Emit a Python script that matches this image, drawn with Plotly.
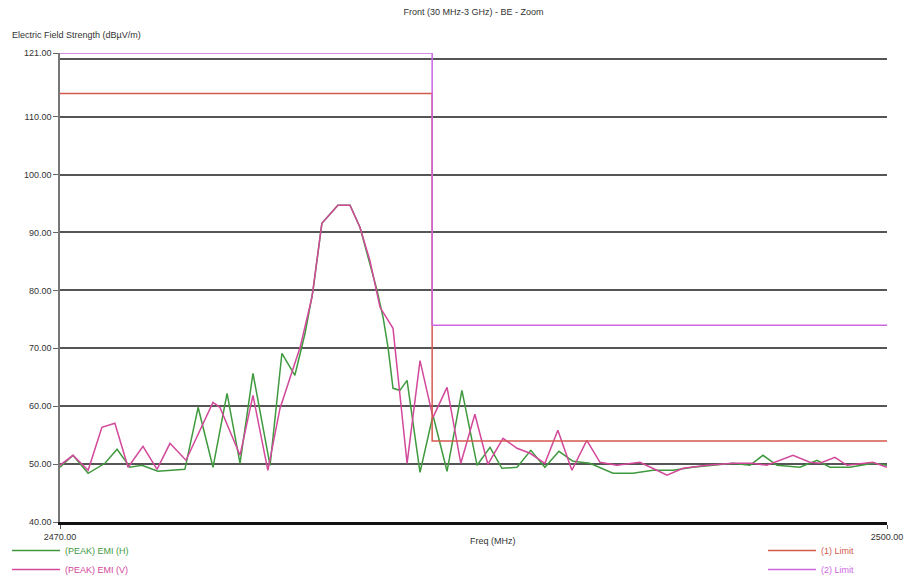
import plotly.graph_objects as go

# ---- data ----
freq_h = [2470.00, 2470.47, 2471.02, 2471.63, 2472.07, 2472.54, 2472.97, 2473.55, 2474.53,
          2475.01, 2475.55, 2476.06, 2476.53, 2477.00, 2477.62, 2478.05, 2478.52, 2478.89,
          2479.18, 2479.50, 2480.08, 2480.52, 2480.88, 2481.24, 2481.50, 2481.72, 2481.90,
          2482.08, 2482.33, 2482.59, 2483.06, 2483.53, 2484.04, 2484.58, 2485.13, 2485.60,
          2486.03, 2486.58, 2487.08, 2487.59, 2488.10, 2488.61, 2489.22, 2490.06, 2490.78,
          2491.51, 2492.23, 2492.96, 2493.68, 2494.41, 2495.03, 2495.50, 2496.01, 2496.84,
          2497.46, 2497.93, 2498.65, 2499.49, 2500.00]
emi_h = [49.45, 51.52, 48.41, 50.14, 52.56, 49.45, 49.79, 48.76, 49.10,
         59.81, 49.45, 62.23, 50.14, 65.68, 49.79, 69.14, 65.34, 72.59,
         80.02, 91.59, 94.70, 94.70, 90.90, 84.68, 80.02, 75.35, 70.17,
         63.09, 62.74, 64.47, 48.58, 58.43, 48.76, 62.74, 49.79, 52.90,
         49.27, 49.45, 52.38, 49.45, 52.21, 50.48, 50.14, 48.41, 48.41,
         48.93, 48.93, 49.45, 49.79, 50.14, 49.79, 51.52, 49.79, 49.45,
         50.66, 49.45, 49.45, 50.14, 49.79]

freq_v = [2470.00, 2470.47, 2471.02, 2471.52, 2471.99, 2472.47, 2473.01, 2473.52, 2473.99,
          2474.57, 2475.55, 2475.80, 2476.53, 2477.00, 2477.54, 2477.98, 2478.71, 2479.14,
          2479.50, 2480.08, 2480.52, 2480.88, 2481.24, 2481.61, 2482.08, 2482.26, 2482.59,
          2483.06, 2483.53, 2484.04, 2484.54, 2485.05, 2485.52, 2486.07, 2486.58, 2487.05,
          2487.59, 2488.06, 2488.57, 2489.11, 2489.59, 2490.20, 2491.04, 2491.65, 2492.02,
          2492.60, 2493.47, 2494.41, 2495.14, 2495.64, 2496.59, 2497.20, 2497.57, 2498.11,
          2498.55, 2499.49, 2500.00]
emi_v = [49.79, 51.52, 48.93, 56.36, 57.05, 49.45, 53.07, 49.10, 53.59,
         50.66, 60.67, 59.81, 51.52, 61.88, 48.93, 59.62, 70.17, 78.81,
         91.59, 94.70, 94.70, 90.90, 85.20, 77.08, 73.45, 64.99, 50.14,
         67.88, 58.08, 63.26, 50.14, 58.60, 49.97, 54.46, 52.73, 51.87,
         50.14, 55.84, 48.93, 54.11, 50.31, 49.79, 50.31, 48.93, 48.07,
         49.27, 49.79, 50.14, 50.14, 49.79, 51.52, 50.31, 50.14, 51.18,
         49.79, 50.31, 49.45]

limit_f = [2470.0, 2483.5, 2483.5, 2500.0]
limit1_db = [114.0, 114.0, 54.0, 54.0]
limit2_db = [121.0, 121.0, 74.0, 74.0]

y_ticks = [40, 50, 60, 70, 80, 90, 100, 110, 121]
y_tick_text = ["40.00", "50.00", "60.00", "70.00", "80.00", "90.00", "100.00", "110.00", "121.00"]
x_ticks = [2470, 2500]
x_tick_text = ["2470.00", "2500.00"]

C_H = "#3f9a3f"
C_V = "#d2489a"
C_L1 = "#d45a4e"
C_L2 = "#cc66e0"

FONT = "Liberation Sans"

fig = go.Figure()
fig.add_trace(go.Scatter(x=freq_h, y=emi_h, mode="lines", line=dict(color=C_H, width=1.5),
                         name=f"<span style='color:{C_H}'>(PEAK) EMI (H)</span>", legend="legend"))
fig.add_trace(go.Scatter(x=freq_v, y=emi_v, mode="lines", line=dict(color=C_V, width=1.5),
                         name=f"<span style='color:{C_V}'>(PEAK) EMI (V)</span>", legend="legend"))
fig.add_trace(go.Scatter(x=limit_f, y=limit1_db, mode="lines", line=dict(color=C_L1, width=1.5),
                         name=f"<span style='color:{C_L1}'>(1) Limit</span>", legend="legend2"))
fig.add_trace(go.Scatter(x=limit_f, y=limit2_db, mode="lines", line=dict(color=C_L2, width=1.5),
                         name=f"<span style='color:{C_L2}'>(2) Limit</span>", legend="legend2"))

fig.update_layout(
    width=905, height=579,
    margin=dict(l=60, r=18, t=53, b=57, autoexpand=False),
    paper_bgcolor="white", plot_bgcolor="white",
    font=dict(family=FONT, size=9, color="#333333"),
    title=dict(text="Front (30 MHz-3 GHz) - BE - Zoom", x=0.5, xref="paper", xanchor="center",
               y=1 - 12 / 579, yanchor="middle", font=dict(size=9, color="#333333")),
    showlegend=True,
    legend=dict(x=-0.064, y=-0.030, xanchor="left", yanchor="top", orientation="v",
                bgcolor="rgba(0,0,0,0)", itemwidth=48, font=dict(size=9),
                tracegroupgap=0, itemclick=False),
    legend2=dict(x=0.850, y=-0.030, xanchor="left", yanchor="top", orientation="v",
                 bgcolor="rgba(0,0,0,0)", itemwidth=48, font=dict(size=9),
                 tracegroupgap=0, itemclick=False),
    xaxis=dict(range=[2470, 2500], tickvals=x_ticks, ticktext=x_tick_text,
               showgrid=False, zeroline=False, showline=True, linecolor="#111111", linewidth=2.5,
               mirror=False, ticks="outside", ticklen=4, tickcolor="#555555",
               tickfont=dict(size=9, color="#333333")),
    xaxis2=dict(range=[2470, 2500], overlaying="x", side="top", showline=True,
                linecolor="#777777", linewidth=1.5, showgrid=False, zeroline=False,
                showticklabels=False, ticks=""),
    yaxis=dict(range=[40, 121], tickvals=y_ticks, ticktext=y_tick_text,
               showgrid=True, gridcolor="#555555", gridwidth=1.5, zeroline=False,
               showline=True, linecolor="#777777", linewidth=1.5, mirror=False,
               ticks="outside", ticklen=5, tickcolor="#666666",
               tickfont=dict(size=9, color="#333333"),
               minor=dict(tickvals=[120], showgrid=True, gridcolor="#555555", gridwidth=1.5, ticks="")),
    yaxis2=dict(range=[40, 121], overlaying="y", side="right", showline=True,
                linecolor="#111111", linewidth=2.5, showgrid=False, zeroline=False,
                showticklabels=False, ticks=""),
    annotations=[
        dict(text="Electric Field Strength (dBµV/m)", xref="paper", yref="paper",
             x=-50 / 827, y=1 + 18 / 469, xanchor="left", yanchor="middle", showarrow=False,
             font=dict(size=9, color="#333333")),
        dict(text="Freq (MHz)", xref="paper", yref="paper",
             x=(493 - 60) / 827, y=-(541 - 521.7) / 469, xanchor="center", yanchor="middle",
             showarrow=False, font=dict(size=9, color="#333333")),
    ],
)

fig.write_html("out.html")
